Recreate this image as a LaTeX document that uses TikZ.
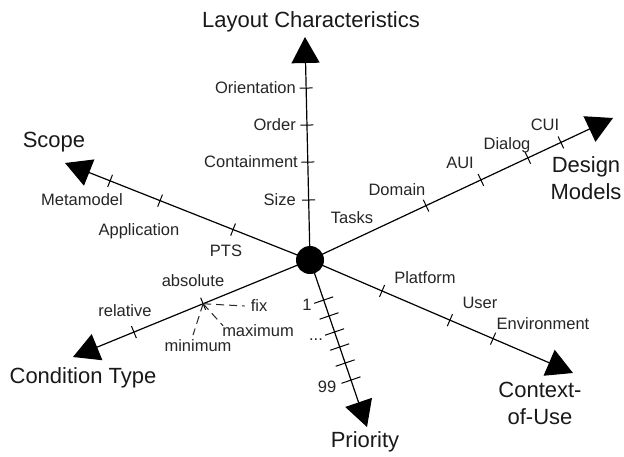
\documentclass[tikz,border=0pt]{standalone}
\usepackage{fontspec}
\setmainfont{Liberation Sans}
\usetikzlibrary{arrows.meta,calc}
\newcommand\axtick[4]{%
  \path ($(#1)!#3!(#2)$) coordinate (tmp);
  \draw[tickmark] ($(tmp)!#4!90:(#2)$) -- ($(tmp)!#4!-90:(#2)$);}
\begin{document}
\begin{tikzpicture}[x=1pt,y=-1pt,
  axis/.style={line width=1.2pt, draw=black, -{Triangle[length=26pt,width=28pt]}},
  tickmark/.style={line width=1pt, draw=black},
  dashline/.style={line width=1pt, draw=black!85, dash pattern=on 8pt off 5pt},
  lbl/.style={font=\fontsize{16.5}{19}\selectfont, text=black!85, inner sep=0pt},
  big/.style={font=\fontsize{22}{27}\selectfont, text=black!90, inner sep=0pt, align=center}]
\useasboundingbox (0,0) rectangle (624,456);
\fill[white] (0,0) rectangle (624,456);
% hub and axis tips
\coordinate (c) at (310,260);
\coordinate (tL) at (305,37);
\coordinate (tD) at (613,118);
\coordinate (tS) at (65,163);
\coordinate (tC) at (73,357);
\coordinate (tU) at (573,373);
\coordinate (tP) at (367,427);
% axes
\draw[axis] (c) -- (tL);
\draw[axis] (c) -- (tD);
\draw[axis] (c) -- (tS);
\draw[axis] (c) -- (tC);
\draw[axis] (c) -- (tU);
\draw[axis] (c) -- (tP);
% ticks
\foreach \t in {0.269,0.439,0.605,0.771} {\axtick{c}{tL}{\t}{6.5pt}}
\foreach \t in {0.383,0.564,0.719,0.828} {\axtick{c}{tD}{\t}{6.5pt}}
\foreach \t in {0.314,0.612,0.816} {\axtick{c}{tS}{\t}{6.5pt}}
\foreach \t in {0.451,0.743} {\axtick{c}{tC}{\t}{6.5pt}}
\foreach \t in {0.274,0.532,0.696} {\axtick{c}{tU}{\t}{6.5pt}}
\foreach \t in {0.240,0.335,0.431,0.521,0.617,0.719} {\axtick{c}{tP}{\t}{10pt}}
\fill[black] (c) circle (14pt);
% axis titles
\node[big] (nL) at (311,22) {Layout Characteristics};
\node[big] (nS) at (54,142) {Scope};
\node[big] (nD) at (586,178) {Design\\Models};
\node[big] (nC) at (83,378) {Condition Type};
\node[big] (nU) at (540,403) {Context-\\of-Use};
\node[big] (nP) at (365,442) {Priority};
% layout labels
\node[lbl, anchor=east] (lo1) at (296,88) {Orientation};
\node[lbl, anchor=east] (lo2) at (296,125) {Order};
\node[lbl, anchor=east] (lo3) at (298,162) {Containment};
\node[lbl, anchor=east] (lo4) at (296,200) {Size};
% design labels
\node[lbl] (d1) at (352,218) {Tasks};
\node[lbl] (d2) at (397,190) {Domain};
\node[lbl] (d3) at (460,163) {AUI};
\node[lbl] (d4) at (507,145) {Dialog};
\node[lbl] (d5) at (545,125) {CUI};
% scope labels
\node[lbl] (s1) at (82,200) {Metamodel};
\node[lbl] (s2) at (139,231) {Application};
\node[lbl] (s3) at (226,251) {PTS};
% context labels
\node[lbl] (u1) at (425,278) {Platform};
\node[lbl] (u2) at (480,303) {User};
\node[lbl] (u3) at (543,324) {Environment};
% priority labels
\node[lbl] (p1) at (307,305) {1};
\node[lbl] (p2) at (316,340) {...};
\node[lbl] (p3) at (327,387) {99};
% condition labels
\node[lbl] (k1) at (193,281) {absolute};
\node[lbl] (k2) at (125,311) {relative};
\node[lbl] (fix) at (259,306) {fix};
\node[lbl] (max) at (258,331) {maximum};
\node[lbl] (min) at (198,346) {minimum};
\path ($(c)!0.451!(tC)$) coordinate (x);
\coordinate (mn) at (193,335);
\draw[dashline] (x) -- ([xshift=-6pt]fix.west);
\draw[dashline] (x) -- ([shift={(1pt,-1pt)}]max.north west);
\draw[dashline] (x) -- (mn);
\end{tikzpicture}
\end{document}
